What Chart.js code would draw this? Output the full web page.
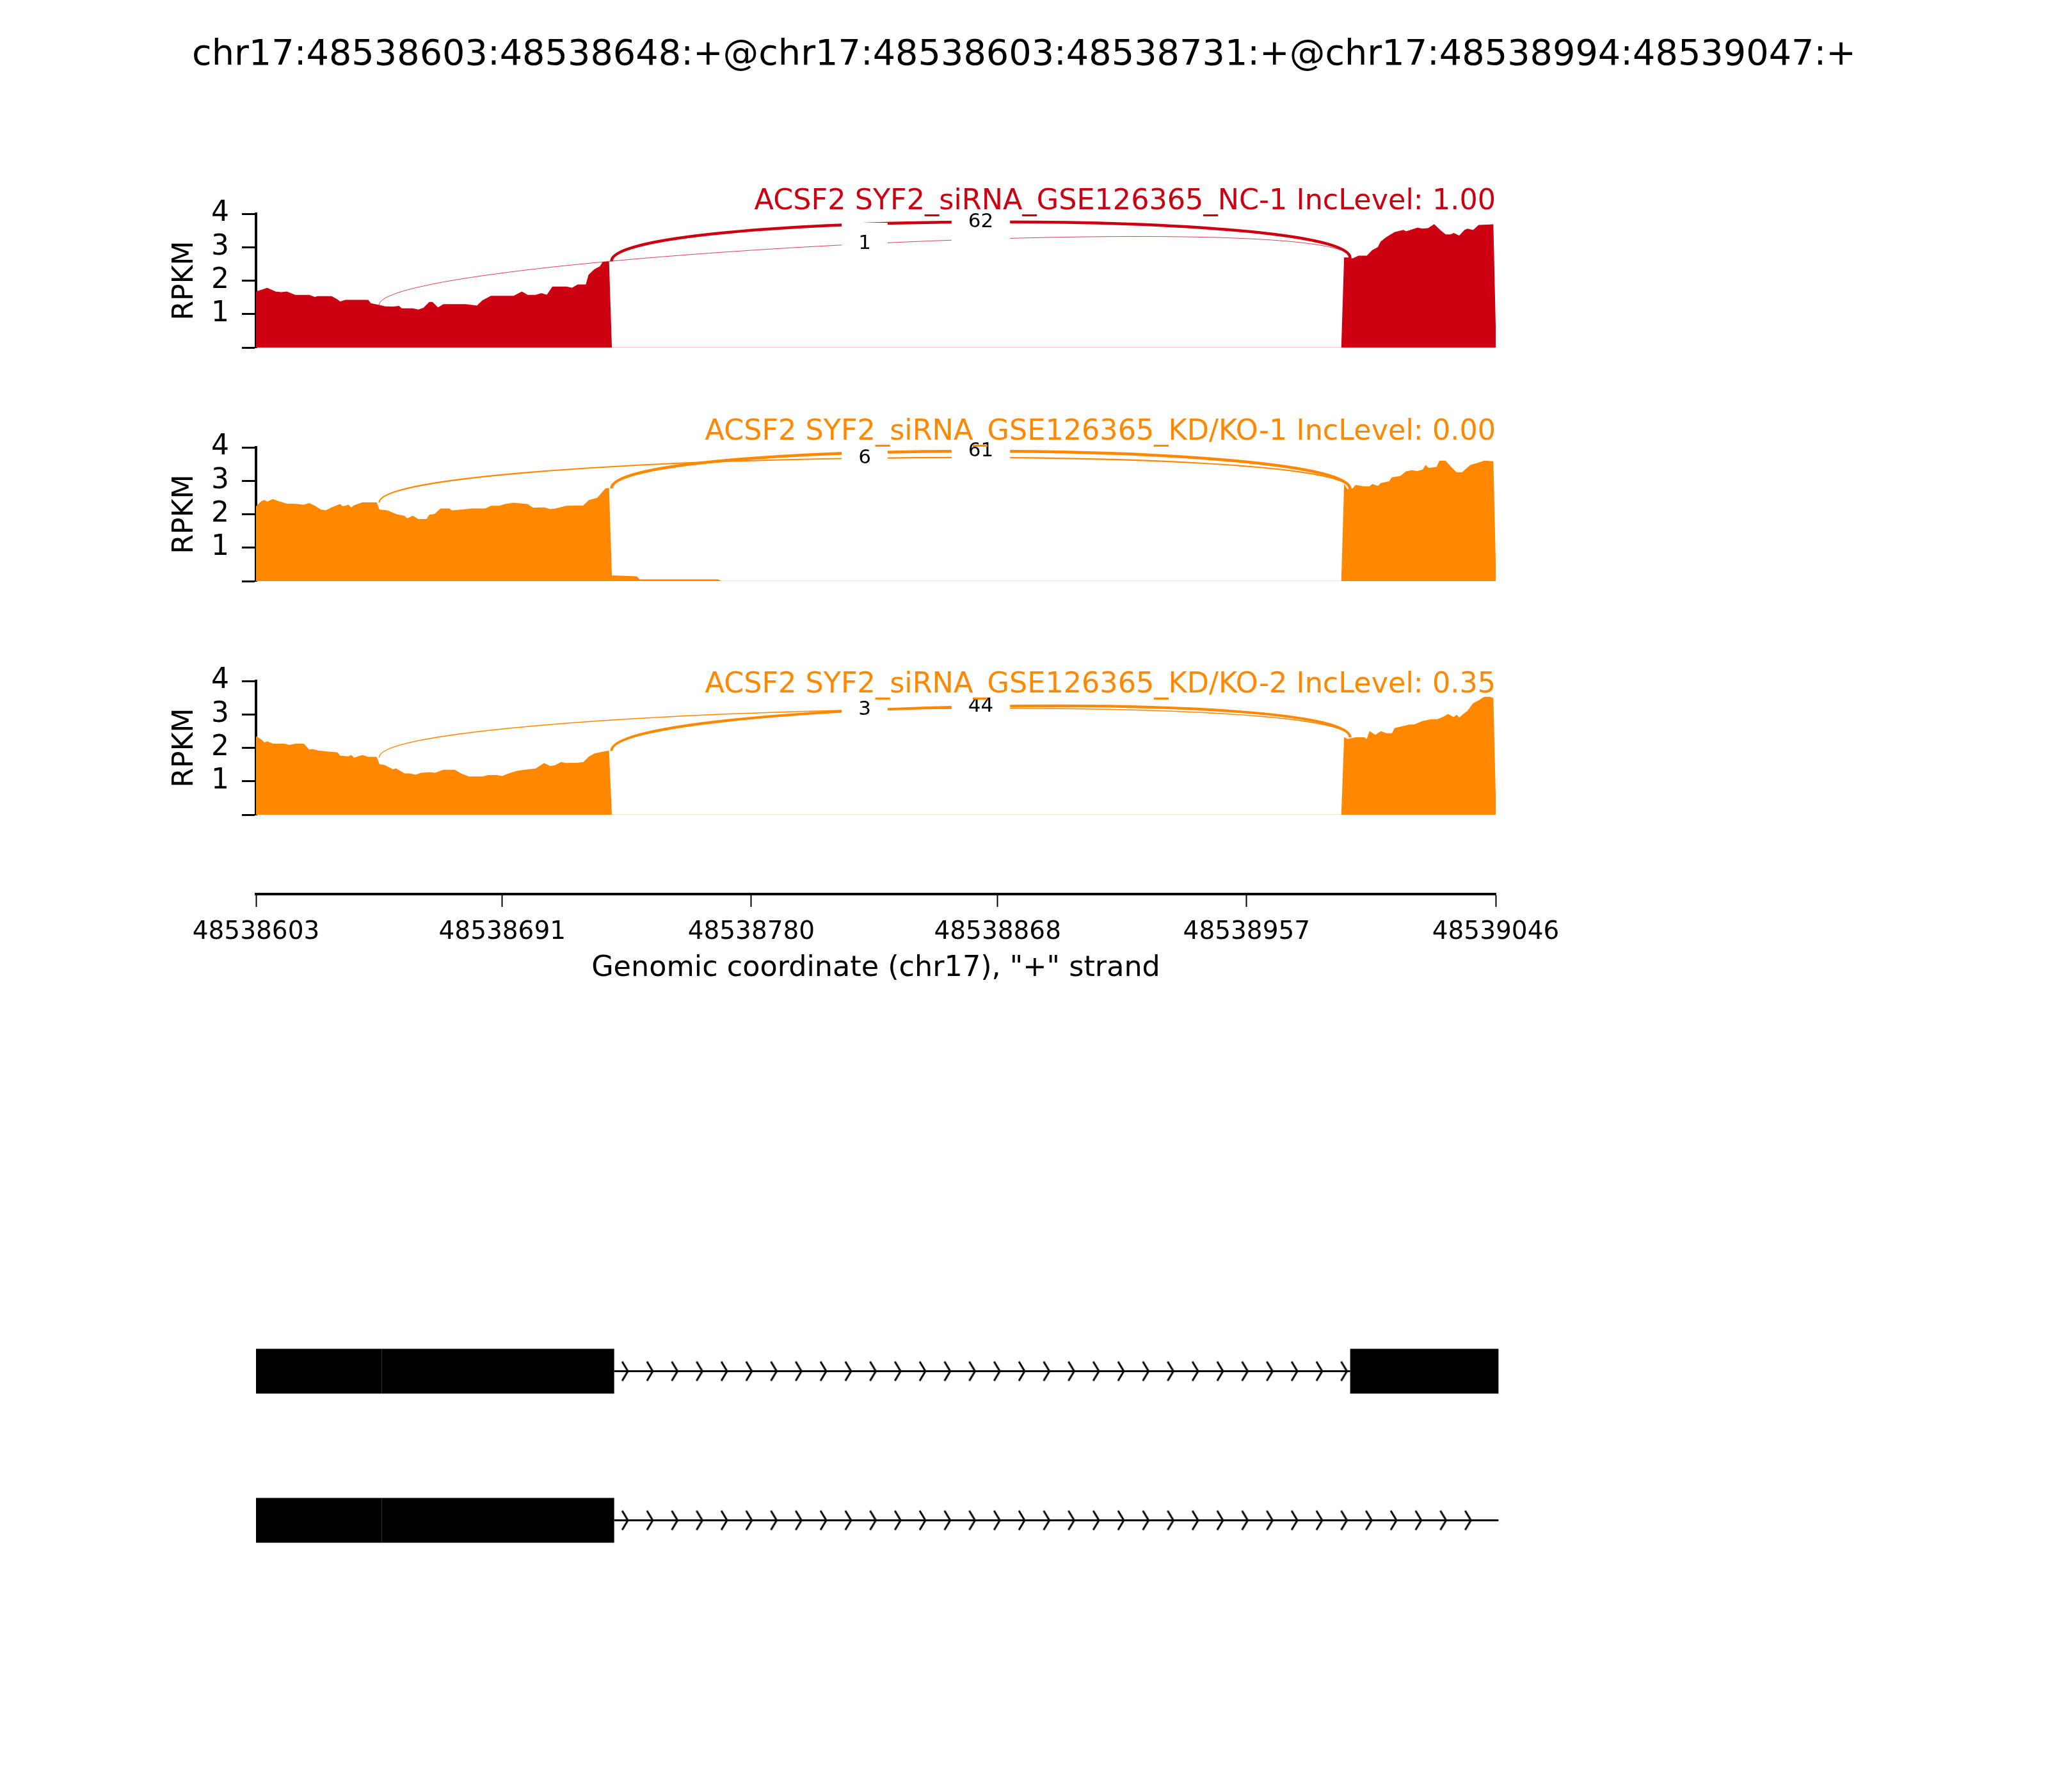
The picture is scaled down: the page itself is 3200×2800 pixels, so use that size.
<!DOCTYPE html>
<html>
<head>
<meta charset="utf-8">
<script src="https://cdn.jsdelivr.net/npm/chart.js@4.4.0/dist/chart.umd.min.js"></script>
<style>
  html, body { margin: 0; padding: 0; background: #fff; }
  body { width: 3200px; height: 2800px; position: relative; overflow: hidden; font-family: 'DejaVu Sans'; }
  canvas { position: absolute; left: 0; }
  #title { position: absolute; left: 0; top: 50px; width: 3200px; text-align: center;
           font-size: 55.7px; line-height: 64px; color: #000; }
</style>
</head>
<body>
<div id="title">chr17:48538603:48538648:+@chr17:48538603:48538731:+@chr17:48538994:48539047:+</div>
<canvas id="p1" width="2600" height="359" style="top:234px"></canvas>
<canvas id="p2" width="2600" height="359" style="top:599px"></canvas>
<canvas id="p3" width="2600" height="359" style="top:964px"></canvas>
<canvas id="xaxis" width="2600" height="257" style="top:1300px"></canvas>
<canvas id="genes" width="2600" height="522" style="top:2000px"></canvas>
<script>
// genomic window and ticks
const X_MIN = 48538603;
const X_MAX = 48539046;
const xTicks = [48538603, 48538691, 48538780, 48538868, 48538957, 48539046];
const yTicks = [0, 1, 2, 3, 4];

// coverage (RPKM)
const nc1Pos = [48538603,48538607,48538610,48538612,48538614,48538617,48538622,48538624,48538625,48538630,
  48538632,48538633,48538635,48538643,48538644,48538647,48538649,48538652,48538654,48538655,48538659,48538661,
  48538663,48538665,48538666,48538668,48538670,48538678,48538682,48538684,48538687,48538695,48538698,48538700,
  48538703,48538705,48538707,48538709,48538714,48538716,48538718,48538721,48538722,48538724,48538726,48538727,
  48538729,48538730,48538991,
  48538992,48538993,48538995,48538997,48539000,48539002,48539004,48539005,48539007,48539010,48539013,48539014,
  48539018,48539020,48539022,48539024,48539026,48539028,48539030,48539031,48539033,48539035,48539036,48539038,
  48539040,48539045,48539046];
const nc1Cov = [1.66,1.77,1.66,1.64,1.66,1.56,1.56,1.50,1.52,1.52,
  1.43,1.36,1.41,1.41,1.31,1.26,1.22,1.21,1.23,1.16,1.16,1.12,
  1.18,1.35,1.35,1.18,1.28,1.28,1.24,1.40,1.53,1.53,1.66,1.56,
  1.56,1.61,1.56,1.81,1.81,1.77,1.87,1.87,2.17,2.33,2.42,2.55,
  2.55,0,0,
  2.68,2.68,2.65,2.73,2.73,2.90,2.99,3.16,3.29,3.44,3.50,3.46,
  3.57,3.54,3.56,3.67,3.51,3.37,3.37,3.41,3.33,3.51,3.54,3.50,
  3.65,3.67,0];

const kd1Pos = [48538603,48538605,48538606,48538607,48538609,48538611,48538614,48538617,48538620,48538622,
  48538624,48538626,48538628,48538630,48538633,48538634,48538636,48538637,48538638,48538641,48538646,48538647,
  48538650,48538653,48538656,48538657,48538659,48538661,48538664,48538665,48538667,48538669,48538672,48538673,
  48538677,48538680,48538685,48538687,48538690,48538692,48538695,48538700,48538702,48538706,48538708,48538710,
  48538714,48538720,48538722,48538725,48538728,48538729,48538730,48538739,48538740,48538768,48538769,48538991,
  48538992,48538993,48538995,48538996,48538999,48539001,48539002,48539004,48539005,48539008,48539009,48539012,
  48539014,48539016,48539018,48539020,48539021,48539022,48539025,48539026,48539028,48539030,48539032,48539034,
  48539037,48539039,48539042,48539045,48539046];
const kd1Cov = [2.22,2.38,2.41,2.36,2.44,2.38,2.30,2.30,2.27,2.32,
  2.24,2.13,2.10,2.19,2.29,2.22,2.27,2.18,2.25,2.34,2.34,2.13,
  2.10,1.99,1.94,1.86,1.94,1.84,1.84,1.97,2.00,2.16,2.16,2.10,
  2.13,2.16,2.16,2.24,2.24,2.29,2.33,2.29,2.18,2.19,2.14,2.16,
  2.24,2.25,2.41,2.48,2.76,2.77,0.16,0.13,0.04,0.04,0,0,
  2.86,2.73,2.76,2.86,2.82,2.82,2.89,2.83,2.92,2.97,3.09,3.13,
  3.27,3.30,3.28,3.32,3.45,3.37,3.40,3.59,3.59,3.40,3.24,3.24,
  3.46,3.51,3.59,3.57,0];

const kd2Pos = [48538603,48538605,48538606,48538607,48538609,48538613,48538615,48538617,48538620,48538622,
  48538623,48538625,48538628,48538632,48538633,48538636,48538637,48538638,48538641,48538643,48538646,48538647,
  48538649,48538652,48538653,48538656,48538658,48538660,48538662,48538665,48538667,48538670,48538674,48538676,
  48538679,48538684,48538686,48538689,48538691,48538693,48538696,48538699,48538703,48538706,48538708,48538710,
  48538712,48538714,48538718,48538720,48538722,48538724,48538727,48538729,48538730,48538991,
  48538992,48538993,48538996,48538999,48539000,48539001,48539003,48539005,48539007,48539009,48539010,48539012,
  48539015,48539017,48539020,48539023,48539025,48539027,48539029,48539031,48539032,48539033,48539035,48539036,
  48539038,48539040,48539042,48539044,48539045,48539046];
const kd2Cov = [2.33,2.23,2.14,2.18,2.11,2.11,2.07,2.11,2.11,1.93,
  1.95,1.91,1.88,1.85,1.75,1.73,1.77,1.69,1.77,1.72,1.72,1.50,
  1.47,1.34,1.37,1.22,1.22,1.18,1.24,1.26,1.24,1.33,1.33,1.23,
  1.13,1.13,1.17,1.17,1.14,1.21,1.29,1.33,1.37,1.53,1.44,1.47,
  1.56,1.53,1.54,1.56,1.72,1.82,1.87,1.90,0,0,
  2.30,2.25,2.30,2.30,2.24,2.48,2.37,2.48,2.42,2.42,2.58,2.62,
  2.68,2.69,2.79,2.84,2.84,2.90,3.00,2.90,2.97,2.89,3.03,3.09,
  3.32,3.41,3.51,3.51,3.48,0];

// junctions: donor / acceptor, read counts and arc end heights per sample
const juncDonor = [48538731, 48538648];
const juncAcceptor = [48538994, 48538994];
const nc1Counts = [62, 1];
const nc1LeftDens = [2.58, 1.27];
const nc1RightDens = [2.68, 2.68];
const kd1Counts = [61, 6];
const kd1LeftDens = [2.77, 2.35];
const kd1RightDens = [2.75, 2.75];
const kd2Counts = [44, 3];
const kd2LeftDens = [1.91, 1.71];
const kd2RightDens = [2.31, 2.31];

// gene models
const iso1Exons = [[48538603, 48538648], [48538648, 48538731], [48538994, 48539047]];
const iso1Introns = [[48538731, 48538994]];
const iso2Exons = [[48538603, 48538648], [48538648, 48538731]];
const iso2Introns = [[48538731, 48539047]];

const RED = '#CC0011';
const ORANGE = '#FF8800';
const FONT = 'DejaVu Sans';
const ARC_H = 1.5;

const samples = [
  { id: 'p1', label: 'ACSF2 SYF2_siRNA_GSE126365_NC-1 IncLevel: 1.00', color: RED, faint: 'rgba(204,0,17,0.3)',
    pos: nc1Pos, cov: nc1Cov, counts: nc1Counts, left: nc1LeftDens, right: nc1RightDens, labelDy: -19 },
  { id: 'p2', label: 'ACSF2 SYF2_siRNA_GSE126365_KD/KO-1 IncLevel: 0.00', color: ORANGE, faint: 'rgba(255,136,0,0.3)',
    pos: kd1Pos, cov: kd1Cov, counts: kd1Counts, left: kd1LeftDens, right: kd1RightDens, labelDy: -24 },
  { id: 'p3', label: 'ACSF2 SYF2_siRNA_GSE126365_KD/KO-2 IncLevel: 0.35', color: ORANGE, faint: 'rgba(255,136,0,0.3)',
    pos: kd2Pos, cov: kd2Cov, counts: kd2Counts, left: kd2LeftDens, right: kd2RightDens, labelDy: 6 }
];

function sashimiArcs(s) {
  return {
    id: 'sashimiArcs',
    afterDatasetsDraw(chart) {
      const {ctx, chartArea} = chart;
      const xs = chart.scales.x, ys = chart.scales.y;
      const mids = [];
      ctx.save();
      s.counts.forEach((n, i) => {
        const x1 = xs.getPixelForValue(juncDonor[i] - 1);
        const x2 = xs.getPixelForValue(juncAcceptor[i]);
        const y1 = ys.getPixelForValue(s.left[i]);
        const c1 = ys.getPixelForValue(s.left[i] + ARC_H);
        const c2 = ys.getPixelForValue(s.right[i] + ARC_H);
        const y2 = ys.getPixelForValue(s.right[i]);
        ctx.beginPath();
        ctx.moveTo(x1, y1);
        ctx.bezierCurveTo(x1, c1, x2, c2, x2, y2);
        ctx.lineWidth = 2.5 * Math.log10(n + 1);
        ctx.strokeStyle = s.color;
        ctx.stroke();
        mids.push({x: (x1 + x2) / 2, y: (y1 + 3 * c1 + 3 * c2 + y2) / 8, n: n});
      });
      ctx.font = '31px "' + FONT + '"';
      ctx.textAlign = 'center';
      ctx.textBaseline = 'middle';
      mids.forEach(m => {
        const w = ctx.measureText(String(m.n)).width;
        ctx.fillStyle = '#fff';
        ctx.fillRect(m.x - w / 2 - 26, m.y - 33, w + 52, 66);
        ctx.fillStyle = '#000';
        ctx.fillText(String(m.n), m.x, m.y);
      });
      ctx.font = '44.5px "' + FONT + '"';
      ctx.textAlign = 'right';
      ctx.fillStyle = s.color;
      ctx.fillText(s.label, chartArea.right, chartArea.top + s.labelDy);
      ctx.restore();
    }
  };
}

samples.forEach(s => {
  new Chart(document.getElementById(s.id), {
    type: 'line',
    data: {
      datasets: [{
        data: s.pos.map((p, i) => ({x: p, y: s.cov[i]})),
        fill: 'origin',
        backgroundColor: s.color,
        borderColor: s.color,
        borderWidth: 1.5,
        pointRadius: 0,
        tension: 0,
        segment: {
          borderColor: c => (c.p0.parsed.y === 0 && c.p1.parsed.y === 0) ? s.faint : undefined
        }
      }]
    },
    options: {
      responsive: false,
      animation: false,
      layout: { padding: { left: 0, right: 263, top: 100, bottom: 50 } },
      plugins: { legend: { display: false }, tooltip: { enabled: false } },
      scales: {
        x: { type: 'linear', min: X_MIN, max: X_MAX, display: false },
        y: {
          type: 'linear', min: 0, max: 4,
          afterBuildTicks: sc => { sc.ticks = yTicks.map(v => ({value: v})); },
          afterFit: sc => { sc.width = 400; },
          ticks: { autoSkip: false, callback: v => v === 0 ? '' : String(v),
                   font: {family: FONT, size: 44}, color: '#000', padding: 20 },
          grid: { display: true, drawOnChartArea: false, drawTicks: true, tickLength: 22, tickWidth: 3, tickColor: '#000' },
          border: { display: true, color: '#000', width: 4 },
          title: { display: true, text: 'RPKM', font: {family: FONT, size: 44}, color: '#000', padding: {top: 263, bottom: 0} }
        }
      }
    },
    plugins: [sashimiArcs(s)]
  });
});

// shared genomic axis
new Chart(document.getElementById('xaxis'), {
  type: 'line',
  data: { datasets: [] },
  options: {
    responsive: false,
    animation: false,
    layout: { padding: { left: 400, right: 263, top: 0, bottom: 0 } },
    plugins: { legend: { display: false }, tooltip: { enabled: false } },
    scales: {
      x: {
        type: 'linear', min: X_MIN, max: X_MAX, position: 'bottom',
        afterBuildTicks: sc => { sc.ticks = xTicks.map(v => ({value: v})); },
        afterFit: sc => { sc.height = 160; },
        ticks: { autoSkip: false, maxRotation: 0, minRotation: 0, callback: v => String(v),
                 font: {family: FONT, size: 39}, color: '#000', padding: 16 },
        grid: { drawOnChartArea: false, drawTicks: true, tickLength: 20, tickWidth: 2, tickColor: '#000' },
        border: { display: true, color: '#000', width: 4 },
        title: { display: true, text: 'Genomic coordinate (chr17), "+" strand', font: {family: FONT, size: 44.5},
                 color: '#000', padding: {top: 0, bottom: 17} }
      },
      y: { display: false, min: 0, max: 1 }
    }
  }
});

// gene structure: chevrons every 1/50 of the window inside introns, as in sashimi plots
const chevron = document.createElement('canvas');
chevron.width = 24; chevron.height = 36;
(function () {
  const c = chevron.getContext('2d');
  c.strokeStyle = '#000'; c.lineWidth = 3;
  c.beginPath(); c.moveTo(3, 3); c.lineTo(12, 18); c.lineTo(3, 33); c.stroke();
})();

function chevronPoints(introns, row) {
  const pts = [];
  for (let k = 0; k < 50; k++) {
    const loc = X_MIN + k * (X_MAX - X_MIN) / 50;
    if (introns.some(([a, b]) => loc > a && loc < b)) pts.push({x: loc, y: row});
  }
  return pts;
}

const geneSets = [];
[[iso1Exons, 1], [iso2Exons, 0]].forEach(([exons, row]) => {
  exons.forEach(([a, b]) => geneSets.push({
    data: [{x: a, y: row}, {x: b, y: row}], borderColor: '#000', borderWidth: 70,
    borderCapStyle: 'butt', pointRadius: 0, clip: false
  }));
});
[[iso1Introns, 1], [iso2Introns, 0]].forEach(([introns, row]) => {
  introns.forEach(([a, b]) => geneSets.push({
    data: [{x: a, y: row}, {x: b, y: row}], borderColor: '#000', borderWidth: 3,
    borderCapStyle: 'butt', pointRadius: 0, clip: false
  }));
  geneSets.push({
    data: chevronPoints(introns, row), showLine: false, pointStyle: chevron,
    pointRadius: 6, clip: false
  });
});

new Chart(document.getElementById('genes'), {
  type: 'line',
  data: { datasets: geneSets },
  options: {
    responsive: false,
    animation: false,
    layout: { padding: { left: 400, right: 263, top: 26, bottom: 30 } },
    plugins: { legend: { display: false }, tooltip: { enabled: false } },
    scales: {
      x: { type: 'linear', min: X_MIN, max: X_MAX, display: false },
      y: { type: 'linear', min: -0.5, max: 1.5, display: false }
    }
  }
});
</script>
</body>
</html>
